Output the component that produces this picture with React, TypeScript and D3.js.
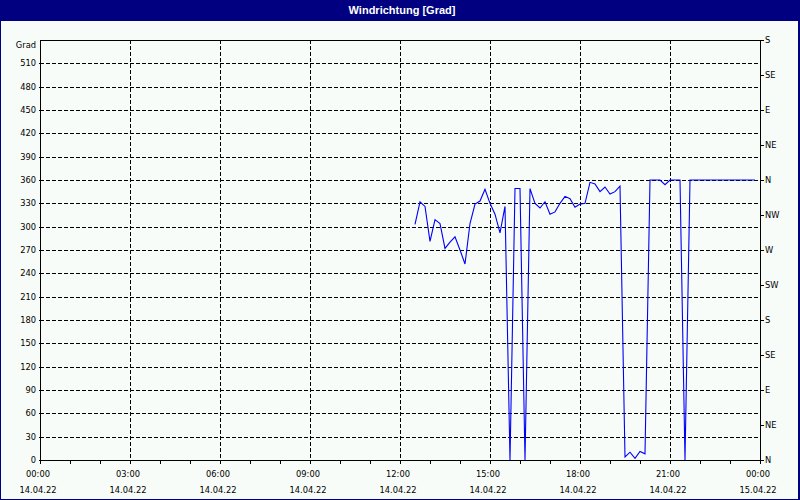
import React from "react";
import * as d3 from "d3";

const TITLE = "Windrichtung [Grad]";
const Y_UNIT = "Grad";
const TIMES = [
  "12:30","12:40","12:50","13:00","13:10","13:20","13:30","13:40","13:50",
  "14:00","14:10","14:20","14:30","14:40","14:50","15:00","15:10","15:20","15:30","15:40","15:50",
  "16:00","16:10","16:20","16:30","16:40","16:50","17:00","17:10","17:20","17:30","17:40","17:50",
  "18:00","18:10","18:20","18:30","18:40","18:50","19:00","19:10","19:20","19:30","19:40","19:50",
  "20:00","20:10","20:20","20:30","20:40","20:50","21:00","21:10","21:20","21:30","21:40","21:50",
  "22:00","22:10","22:20","22:30","22:40","22:50","23:00","23:10","23:20","23:30","23:40","23:50",
];
const VALUES = [
  303,332,326,281,309,304,272,280,287,
  270,252,304,329,333,348,330,316,292,326,0,349,
  349,0,349,330,324,332,316,319,330,339,336,325,
  329,330,357,355,345,351,342,345,352,4,10,2,
  11,8,360,360,360,354,360,360,360,0,360,360,
  360,360,360,360,360,360,360,360,360,360,360,360,
];
const Y_TICKS = [0,30,60,90,120,150,180,210,240,270,300,330,360,390,420,450,480,510];
const DIR_VALUES = [0,45,90,135,180,225,270,315,360,405,450,495,540];
const DIR_LABELS = ["N","NE","E","SE","S","SW","W","NW","N","NE","E","SE","S"];
const X_LABEL_HOURS = [0,3,6,9,12,15,18,21,24];

const W = 800, H = 500;
const M = { left: 40, right: 760, top: 40, bottom: 460 };
const FONT = "'DejaVu Sans', Verdana, sans-serif";
const FS = 8.3;

export default function App() {
  const day0 = new Date(2022, 3, 14, 0, 0);
  const day1 = new Date(2022, 3, 15, 0, 0);
  const x = d3.scaleTime().domain([day0, day1]).range([M.left, M.right]);
  const y = d3.scaleLinear().domain([0, 540]).range([M.bottom, M.top]);
  const parse = (s: string) => {
    const [h, m] = s.split(":").map(Number);
    return new Date(2022, 3, 14, h, m);
  };
  const data = TIMES.map((t, i) => ({ t: parse(t), v: VALUES[i] }));
  const line = d3.line<{ t: Date; v: number }>().x(d => x(d.t)).y(d => y(d.v));
  const hourTicks = d3.timeHour.every(1)!.range(day0, new Date(2022, 3, 15, 0, 1));
  const fmtT = d3.timeFormat("%H:%M");
  const fmtD = d3.timeFormat("%d.%m.%y");
  const labelDates = X_LABEL_HOURS.map(h => d3.timeHour.offset(day0, h));
  const gridDates = labelDates.filter((_, i) => i > 0 && i < labelDates.length - 1);

  return (
    <div style={{ position: "fixed", left: 0, top: 0 }}>
      <svg width={W} height={H} style={{ display: "block" }} fontFamily={FONT}>
        <rect x={0} y={0} width={W} height={H} fill="#F8FCF8" />
        <rect x={0} y={0} width={W} height={21} fill="#000080" />
        <rect x={0.5} y={0.5} width={W - 1.5} height={H - 1} fill="none" stroke="#000080" strokeWidth={1} />
        <rect x={798} y={20} width={2} height={480} fill="#000080" />
        <text x={402} y={14} fill="#fff" fontWeight="bold" fontSize={11} textAnchor="middle"
          fontFamily="'Liberation Sans', Arial, sans-serif">{TITLE}</text>

        {/* horizontal grid */}
        {Y_TICKS.filter(v => v > 0).map(v => (
          <line key={"hg" + v} x1={M.left} x2={M.right} y1={Math.round(y(v)) + 0.5} y2={Math.round(y(v)) + 0.5}
            stroke="#000" strokeDasharray="4,2" shapeRendering="crispEdges" />
        ))}
        {/* vertical grid */}
        {gridDates.map((d, i) => (
          <line key={"vg" + i} x1={Math.round(x(d)) + 0.5} x2={Math.round(x(d)) + 0.5} y1={M.top} y2={M.bottom}
            stroke="#000" strokeDasharray="4,2" shapeRendering="crispEdges" />
        ))}

        {/* data line */}
        <defs>
          <clipPath id="plotclip">
            <rect x={M.left} y={M.top} width={M.right - M.left} height={M.bottom - M.top + 1} />
          </clipPath>
        </defs>
        <path d={line(data) || ""} fill="none" stroke="#0000F8" strokeWidth={1.1} clipPath="url(#plotclip)" />

        {/* frame */}
        <rect x={M.left + 0.5} y={M.top + 0.5} width={M.right - M.left} height={M.bottom - M.top}
          fill="none" stroke="#000" shapeRendering="crispEdges" />

        {/* left axis */}
        {Y_TICKS.map(v => (
          <g key={"yl" + v}>
            <line x1={M.left - 1} x2={M.left} y1={Math.round(y(v)) + 0.5} y2={Math.round(y(v)) + 0.5} stroke="#000" shapeRendering="crispEdges" />
            <text x={36} y={y(v)} dy="0.35em" fontSize={FS} textAnchor="end" fill="#000">{v}</text>
          </g>
        ))}
        <text x={36} y={y(540) + 5} dy="0.35em" fontSize={FS} textAnchor="end" fill="#000">{Y_UNIT}</text>

        {/* right axis */}
        {DIR_VALUES.map((v, i) => (
          <g key={"yr" + v}>
            <line x1={M.right} x2={M.right + 4} y1={Math.round(y(v)) + 0.5} y2={Math.round(y(v)) + 0.5} stroke="#000" shapeRendering="crispEdges" />
            <text x={M.right + 5} y={y(v)} dy="0.35em" fontSize={FS} textAnchor="start" fill="#000">{DIR_LABELS[i]}</text>
          </g>
        ))}

        {/* bottom axis */}
        {hourTicks.map((d, i) => (
          <line key={"bt" + i} x1={Math.round(x(d)) + 0.5} x2={Math.round(x(d)) + 0.5} y1={M.bottom} y2={M.bottom + 4}
            stroke="#000" shapeRendering="crispEdges" />
        ))}
        {labelDates.map((d, i) => (
          <g key={"bl" + i}>
            <text x={x(d) - 2} y={474} dy="0.35em" fontSize={FS} textAnchor="middle" fill="#000">{fmtT(d)}</text>
            <text x={x(d) - 2} y={490} dy="0.35em" fontSize={FS} textAnchor="middle" fill="#000">{fmtD(d)}</text>
          </g>
        ))}
      </svg>
    </div>
  );
}
